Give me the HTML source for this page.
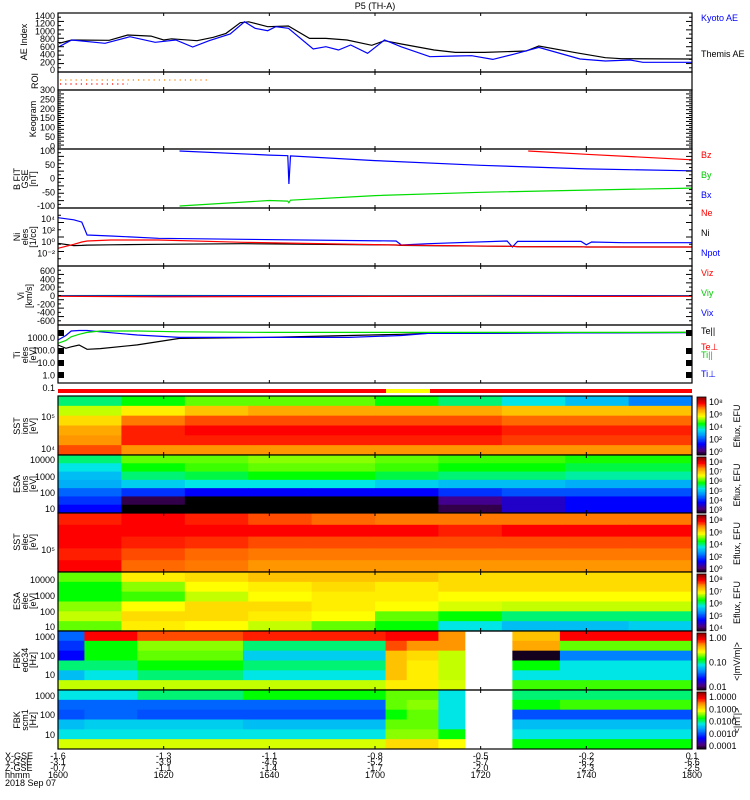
<!DOCTYPE html>
<html><head><meta charset="utf-8">
<style>
html,body{margin:0;padding:0;background:#fff;}
svg{display:block;font-family:"Liberation Sans",sans-serif;}
text{font-size:9px;}
</style></head>
<body>
<svg id="c" width="750" height="800" viewBox="0 0 750 800"></svg>
<script>
// ---------- data ----------
const aeThemisT=[0.2,2.6,9.7,13.2,17.6,20,21.5,26.3,29.4,31.8,34.5,36.1,39.7,43.6,47.6,50.7,54.7,59.4,61.8,65,71.2,75.2,80.7,88.6,91,98,103.6,106.7,120];
const aeThemisV=[691,777,770,907,880,777,810,760,847,950,1226,1250,1123,1140,820,820,777,640,760,673,518,457,457,492,622,449,320,294,285];
const aeKyotoT=[0.2,2.6,8.9,13.6,18.4,22.3,25.5,28.6,32.6,35.3,37.3,39.7,41.2,43.6,48.3,50.7,53.1,55.4,58.6,61.8,64.9,70.4,75.2,78.3,82.3,86.2,91,98.8,103.6,108.3,110.7,120];
const aeKyotoV=[604,777,691,864,717,777,596,760,933,1250,1080,1020,1123,1080,544,604,518,647,432,777,604,345,363,371,276,406,587,285,233,259,199,199];
const bT=[23,40,43.5,43.7,44,60,80,100,120];
const bxV=[100,85,83,-20,82,65,48,35,28];
const byV=[-100,-80,-82,-88,-79,-62,-50,-42,-35];
const bzT=[89,100,120];
const bzV=[100,88,68];
const nT=[0,3,4.5,5.5,10,19,35,64,65,70,85,86,87,99,100,101,107,120];
const npotV=[4.26,3.9,3.5,1.23,1.05,0.65,0.47,0.18,-0.53,-0.3,0.18,-0.87,0.1,0.1,-0.5,0.0,-0.12,-0.12];
const neV=[-1.1,-0.4,0.0,0.18,0.35,0.35,-0.06,-0.53,-0.55,-0.6,-0.76,-0.76,-0.8,-0.85,-0.88,-0.88,-0.88,-0.88];
const niV=[-0.23,-0.64,-0.6,-0.55,-0.5,-0.4,-0.3,-0.53,-0.6,-0.65,-0.76,-0.76,-0.8,-0.85,-0.88,-0.88,-0.88,-0.88];
const vT=[0,20,40,60,80,100,120];
const vxV=[5,3,2,0,4,6,5];
const vyV=[10,12,10,8,12,10,10];
const vzV=[-8,-18,-14,-10,-8,-10,-8];
const tT=[0,1.5,2.5,4,5.5,8,15,23,40,55,65,70,90,120];
const tparV=[2.58,2.8,3.1,3.3,3.45,3.56,3.56,3.5,3.45,3.45,3.45,3.45,3.45,3.45];
const tperV=[2.84,3.2,3.56,3.6,3.6,3.5,3.24,3.05,3.05,3.05,3.2,3.37,3.4,3.43];
const teV=[2.44,2.18,2.3,2.44,2.1,2.15,2.45,2.97,3.05,3.2,3.3,3.37,3.4,3.45];
const timeTicks=['1600','1620','1640','1700','1720','1740','1800'];
const xgse=['-1.6','-1.3','-1.1','-0.8','-0.5','-0.2','0.1'];
const ygse=['-3.1','-3.9','-4.6','-5.2','-5.7','-6.2','-6.6'];
const zgse=['-0.7','-1.1','-1.4','-1.7','-2.0','-2.3','-2.5'];
// spectrogram levels (0..1 colormap), rows top->bottom, 10 columns of 12 min
const sstI=[[0.5,0.55,0.6,0.6,0.6,0.55,0.5,0.45,0.4,0.33],[0.65,0.7,0.75,0.78,0.78,0.78,0.78,0.75,0.75,0.75],[0.72,0.82,0.85,0.85,0.85,0.85,0.85,0.83,0.83,0.83],[0.78,0.88,0.9,0.9,0.9,0.9,0.9,0.88,0.88,0.88],[0.8,0.88,0.88,0.88,0.88,0.88,0.88,0.86,0.86,0.86],[0.85,0.8,0.8,0.8,0.8,0.8,0.8,0.8,0.8,0.8]];
const esaI=[[0.5,0.6,0.6,0.62,0.62,0.6,0.58,0.58,0.56,0.56],[0.45,0.55,0.58,0.6,0.6,0.58,0.55,0.55,0.52,0.52],[0.4,0.5,0.52,0.55,0.55,0.52,0.5,0.5,0.48,0.48],[0.38,0.42,0.45,0.45,0.45,0.42,0.4,0.4,0.38,0.38],[0.3,0.25,0.2,0.2,0.2,0.2,0.25,0.28,0.28,0.28],[0.25,0.05,0,0,0,0,0.1,0.15,0.2,0.2],[0.2,0,0,0,0,0,0.05,0.15,0.2,0.2]];
const sstE=[[0.88,0.9,0.88,0.85,0.83,0.82,0.82,0.82,0.82,0.82],[0.9,0.9,0.9,0.9,0.9,0.9,0.88,0.9,0.9,0.9],[0.9,0.88,0.87,0.85,0.85,0.85,0.85,0.85,0.85,0.85],[0.88,0.85,0.83,0.82,0.82,0.82,0.82,0.82,0.82,0.82],[0.9,0.83,0.82,0.8,0.8,0.8,0.8,0.8,0.8,0.8]];
const esaE=[[0.6,0.7,0.72,0.75,0.75,0.75,0.72,0.72,0.72,0.72],[0.55,0.62,0.68,0.7,0.72,0.7,0.72,0.72,0.72,0.72],[0.55,0.58,0.65,0.68,0.7,0.7,0.68,0.68,0.68,0.68],[0.62,0.68,0.72,0.72,0.7,0.68,0.66,0.65,0.65,0.65],[0.65,0.72,0.72,0.7,0.68,0.6,0.55,0.5,0.5,0.5],[0.6,0.7,0.68,0.65,0.6,0.55,0.45,0.4,0.4,0.42]];
const fbkEdges=[0,5,15,35,62,66,72,77,86,95,120];
const fbkE=[[0.3,0.9,0.85,0.88,0.9,0.9,0.8,null,0.75,0.9],[0.25,0.55,0.62,0.5,0.85,0.8,0.8,null,0.78,0.6],[0.2,0.55,0.6,0.42,0.75,0.72,0.65,null,0.02,0.33],[0.5,0.5,0.55,0.5,0.75,0.7,0.65,null,0.55,0.45],[0.4,0.45,0.5,0.45,0.75,0.7,0.65,null,0.45,0.45],[0.65,0.65,0.65,0.65,0.7,0.7,0.66,null,0.58,0.58]];
const fbkB=[[0.45,0.45,0.5,0.55,0.6,0.6,0.45,null,0.5,0.5],[0.3,0.3,0.3,0.3,0.6,0.62,0.45,null,0.55,0.58],[0.28,0.3,0.28,0.28,0.55,0.6,0.45,null,0.28,0.28],[0.4,0.42,0.42,0.4,0.6,0.6,0.45,null,0.4,0.4],[0.45,0.45,0.45,0.45,0.62,0.62,0.55,null,0.45,0.45],[0.66,0.66,0.66,0.66,0.72,0.72,0.68,null,0.55,0.55]];

// ---------- helpers ----------
const NS='http://www.w3.org/2000/svg';
const svg=document.getElementById('c');
const X0=58,X1=692;
function tx(t){return X0+(X1-X0)*t/120;}
function el(tag,a,parent){const e=document.createElementNS(NS,tag);for(const k in a)e.setAttribute(k,a[k]);(parent||svg).appendChild(e);return e;}
function txt(s,x,y,a,parent){const e=el('text',Object.assign({x:x,y:y},a||{}),parent);e.textContent=s;return e;}
const stops=[[0,0,0,0],[0.08,80,0,120],[0.2,0,0,255],[0.35,0,150,255],[0.45,0,230,230],[0.55,0,255,0],[0.68,255,255,0],[0.8,255,150,0],[0.9,255,0,0],[1,150,0,0]];
function cmap(v){for(let i=1;i<stops.length;i++){if(v<=stops[i][0]){const a=stops[i-1],b=stops[i];const f=(v-a[0])/(b[0]-a[0]);return 'rgb('+[1,2,3].map(j=>Math.round(a[j]+(b[j]-a[j])*f)).join(',')+')';}}return 'rgb(150,0,0)';}
function poly(T,V,ys,color,name,g){let d='';T.forEach((t,i)=>{d+=(i?'L':'M')+tx(t).toFixed(1)+','+ys(V[i]).toFixed(1);});const p=el('path',{d:d,fill:'none',stroke:color,'stroke-width':1.2},g);return p;}
function frame(y0,y1,name){const r=el('rect',{x:X0,y:y0,width:X1-X0,height:y1-y0,fill:'none',stroke:'#000','stroke-width':1.2});
 for(let k=0;k<=6;k++){const x=tx(k*20);el('line',{x1:x,y1:y0,x2:x,y2:y0+3,stroke:'#000'});el('line',{x1:x,y1:y1,x2:x,y2:y1-3,stroke:'#000'});}}
function yticks(y0,y1,n){for(let i=0;i<=n;i++){const y=y0+(y1-y0)*i/n;el('line',{x1:X0,y1:y,x2:X0+(i%2?3:6),y2:y,stroke:'#000'});el('line',{x1:X1,y1:y,x2:X1-(i%2?3:6),y2:y,stroke:'#000'});}}
function ylab(lines,cx,cy,g){lines.forEach((s,i)=>{const t=txt(s,cx+i*8,cy,{transform:'rotate(-90 '+(cx+i*8)+' '+cy+')','text-anchor':'middle'},g);});}
function heat(grid,edges,y0,y1,name){const g=el('g',{});
 const nr=grid.length,h=(y1-y0)/nr;grid.forEach((row,r)=>{row.forEach((v,c)=>{if(v===null)return;const xa=tx(edges[c]),xb=tx(edges[c+1]);
 const rc=el('rect',{x:xa,y:y0+r*h,width:xb-xa+0.5,height:h+0.5,fill:cmap(v)},g);});});}
function cbar(y0,y1,labels,unit,name){const g=el('g',{});
 const n=40;for(let i=0;i<n;i++){el('rect',{x:697,y:y0+(y1-y0)*i/n,width:9,height:(y1-y0)/n+0.5,fill:cmap(1-i/n)},g);}
 el('rect',{x:697,y:y0,width:9,height:y1-y0,fill:'none',stroke:'#000','stroke-width':0.8},g);
 labels.forEach((s,i)=>{txt(s,709,y0+8+(y1-y0-8)*i/(labels.length-1),{'font-size':'8'},g);});
 const cx=740,cy=(y0+y1)/2;txt(unit,cx,cy,{transform:'rotate(-90 '+cx+' '+cy+')','text-anchor':'middle','font-size':'8'},g);}
function rlab(s,y,color,name){const t=txt(s,701,y,{fill:color,'font-size':'8'});}

// ---------- title ----------
const ti=txt('P5 (TH-A)',375,9,{'text-anchor':'middle'});

// AE panel 13-72
(function(){const y0=13,y1=72,ys=v=>70-v*54/1400;const g=el('g',{});
 poly(aeThemisT,aeThemisV,ys,'#000','themis-ae-line',g);poly(aeKyotoT,aeKyotoV,ys,'#0000ff','kyoto-ae-line',g);
 frame(y0,y1,'ae-frame');yticks(y0,y1,14);
 ['0','200','400','600','800','1000','1200','1400'].forEach((s,i)=>txt(s,55,ys(i*200)+3,{'text-anchor':'end','font-size':'8'}));
 ylab(['AE Index'],27,42);rlab('Kyoto AE',701,'#0000ff','legend-kyoto-ae');rlab('Themis AE',701,'#000','legend-themis-ae');})();
svg.lastChild.previousSibling.setAttribute('y',21);svg.lastChild.setAttribute('y',57);

// ROI 72-90
(function(){const g=el('g',{});
 el('line',{x1:60,y1:80,x2:207,y2:80,stroke:'#ff7f00','stroke-width':1.2,'stroke-dasharray':'1.2 4'},g);
 el('line',{x1:60,y1:84,x2:128,y2:84,stroke:'#ff0000','stroke-width':1.2,'stroke-dasharray':'1.2 4'},g);
 frame(72,90,'roi-frame');ylab(['ROI'],38,81);})();

// Keogram 90-149
(function(){frame(90,149,'keogram-frame');yticks(90,149,30);
 ['300','250','200','150','100','50','0'].forEach((s,i)=>txt(s,55,93+i*9.4,{'text-anchor':'end','font-size':'8'}));ylab(['Keogram'],36,119);})();

// B field 149-208
(function(){const ys=v=>178.5-v*0.275;const g=el('g',{});
 poly(bT,bxV,ys,'#0000ff','bx-line',g);poly(bT,byV,ys,'#00dd00','by-line',g);poly(bzT,bzV,ys,'#ff0000','bz-line',g);
 frame(149,208,'bfield-frame');yticks(149,208,16);
 ['100','50','0','-50','-100'].forEach((s,i)=>txt(s,55,ys(100-50*i)+3,{'text-anchor':'end'}));
 ylab(['B FIT','GSE','[nT]'],20,179);rlab('Bz',701,'#ff0000','legend-bz');rlab('By',701,'#00cc00','legend-by');rlab('Bx',701,'#0000ff','legend-bx');})();
(function(){const L=[...svg.querySelectorAll('text')].slice(-3);L[0].setAttribute('y',158);L[1].setAttribute('y',178);L[2].setAttribute('y',198);})();

// Density 208-266
(function(){const ys=v=>242-v*5.7;const g=el('g',{});
 poly(nT,npotV,ys,'#0000ff','npot-line',g);poly(nT,niV,ys,'#000','ni-line',g);poly(nT,neV,ys,'#ff0000','ne-line',g);
 frame(208,266,'density-frame');yticks(208,266,8);
 [['10⁴',4],['10²',2],['10⁰',0],['10⁻²',-2]].forEach(a=>txt(a[0],55,ys(a[1])+3,{'text-anchor':'end'}));
 ylab(['Ni','eles','[1/cc]'],20,237);rlab('Ne',216,'#ff0000','legend-ne');rlab('Ni',236,'#000','legend-ni');rlab('Npot',256,'#0000ff','legend-npot');})();

// Velocity 266-325
(function(){const ys=v=>296-v*0.0417;const g=el('g',{});
 poly(vT,vyV,ys,'#00dd00','vy-line',g);poly(vT,vxV,ys,'#0000ff','vx-line',g);poly(vT,vzV,ys,'#ff0000','vz-line',g);
 frame(266,325,'velocity-frame');yticks(266,325,14);
 ['600','400','200','0','-200','-400','-600'].forEach((s,i)=>txt(s,55,ys(600-200*i)+3,{'text-anchor':'end'}));
 ylab(['Vi','[km/s]'],24,296);rlab('Viz',276,'#ff0000','legend-viz');rlab('Viy',296,'#00cc00','legend-viy');rlab('Vix',316,'#0000ff','legend-vix');})();

// Temperature 325-383
(function(){const ys=v=>338-(v-3)*12.5;const g=el('g',{});
 poly(tT,teV,ys,'#000','te-line',g);poly(tT,tperV,ys,'#0000ff','ti-perp-line',g);poly(tT,tparV,ys,'#00dd00','ti-par-line',g);
 frame(325,383,'temperature-frame');
 [[3,'1000.0'],[2,'100.0'],[1,'10.0'],[0,'1.0'],[-1,'0.1']].forEach(a=>{txt(a[1],55,ys(a[0])+3,{'text-anchor':'end'});});
 [330,348,360,372].forEach(y=>{el('rect',{x:58,y:y,width:6,height:6,fill:'#000'});el('rect',{x:686,y:y,width:6,height:6,fill:'#000'});});
 ylab(['Ti','eles','[eV]'],20,355);rlab('Te||',334,'#000','legend-te-par');rlab('Te⊥',350,'#ff0000','legend-te-perp');rlab('Ti||',358,'#00cc00','legend-ti-par');rlab('Ti⊥',377,'#0000ff','legend-ti-perp');})();

// flag bar
(function(){const g=el('g',{});
 el('rect',{x:X0,y:389,width:X1-X0,height:4,fill:'#ff0000'},g);el('rect',{x:386,y:389,width:44,height:4,fill:'#ffff00'},g);})();

// Spectrograms
const ten=[0,12,24,36,48,60,72,84,96,108,120];
heat(sstI,ten,396,455,'sst-ion-spectrogram');frame(396,455,'sst-ion-frame');
txt('10⁵',55,420,{'text-anchor':'end'});txt('10⁴',55,452,{'text-anchor':'end'});ylab(['SST','ions','[eV]'],20,426);
cbar(397,455,['10⁸','10⁶','10⁴','10²','10⁰'],'Eflux, EFU','sst-ion-colorbar');
heat(esaI,ten,455,513,'esa-ion-spectrogram');frame(455,513,'esa-ion-frame');
[['10000',463],['1000',480],['100',496],['10',512]].forEach(a=>txt(a[0],55,a[1],{'text-anchor':'end'}));ylab(['ESA','ions','[eV]'],20,484);
cbar(457,513,['10⁸','10⁷','10⁶','10⁵','10⁴','10³'],'Eflux, EFU','esa-ion-colorbar');
heat(sstE,ten,513,572,'sst-electron-spectrogram');frame(513,572,'sst-electron-frame');
txt('10⁵',55,553,{'text-anchor':'end'});ylab(['SST','elec','[eV]'],20,542);
cbar(515,572,['10⁸','10⁶','10⁴','10²','10⁰'],'Eflux, EFU','sst-electron-colorbar');
heat(esaE,ten,572,631,'esa-electron-spectrogram');frame(572,631,'esa-electron-frame');
[['10000',583],['1000',599],['100',615],['10',630]].forEach(a=>txt(a[0],55,a[1],{'text-anchor':'end'}));ylab(['ESA','elec','[eV]'],20,601);
cbar(574,631,['10⁸','10⁷','10⁶','10⁵','10⁴'],'Eflux, EFU','esa-electron-colorbar');
heat(fbkE,fbkEdges,631,690,'fbk-e-spectrogram');frame(631,690,'fbk-e-frame');
[['1000',640],['100',659],['10',678]].forEach(a=>txt(a[0],55,a[1],{'text-anchor':'end'}));ylab(['FBK','edc34','[Hz]'],20,660);
cbar(633,690,['1.00','0.10','0.01'],'<|mV/m|>','fbk-e-colorbar');
heat(fbkB,fbkEdges,690,749,'fbk-b-spectrogram');frame(690,749,'fbk-b-frame');
[['1000',699],['100',718],['10',738]].forEach(a=>txt(a[0],55,a[1],{'text-anchor':'end'}));ylab(['FBK','scm1','[Hz]'],20,720);
cbar(692,749,['1.0000','0.1000','0.0100','0.0010','0.0001'],'<|nT|>','fbk-b-colorbar');

// bottom axis labels
(function(){const g=el('g',{});
 const rows=[['X-GSE',xgse,759],['Y-GSE',ygse,765],['Z-GSE',zgse,771],['hhmm',timeTicks,778]];
 rows.forEach(r=>{txt(r[0],5,r[2],{'font-size':'8'},g);r[1].forEach((s,i)=>txt(s,tx(i*20),r[2],{'text-anchor':'middle','font-size':'8'},g));});
 txt('2018 Sep 07',5,786,{'font-size':'8'},g);})();
</script>
</body></html>
